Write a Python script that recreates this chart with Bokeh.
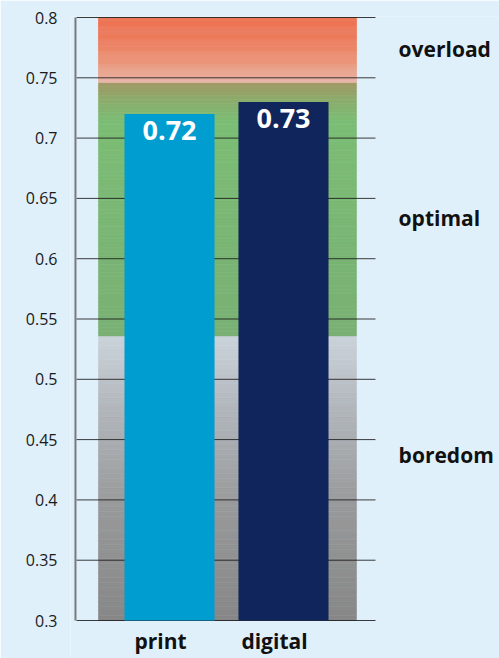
import numpy as np
from bokeh.plotting import figure
from bokeh.models import Range1d, FixedTicker
from bokeh.core.properties import value
from bokeh.embed import file_html
from bokeh.resources import INLINE

# Scores per medium
categories = ["print", "digital"]
scores = [0.72, 0.73]
bar_colors = ["#009dd0", "#10255b"]

# Vertical axis ticks
y_ticks = [0.3, 0.35, 0.4, 0.45, 0.5, 0.55, 0.6, 0.65, 0.7, 0.75, 0.8]
y_tick_labels = ["0.3", "0.35", "0.4", "0.45", "0.5", "0.55", "0.6", "0.65", "0.7", "0.75", "0.8"]

# Background zones
zone_names = ["boredom", "optimal", "overload"]
zone_bottoms = [0.3, 0.536, 0.746]
zone_tops = [0.536, 0.746, 0.8]
zone_label_y = [0.437, 0.634, 0.774]

# colour stops per zone: (position from bottom 0..1, rgb)
zone_stops = [
    [(0.0, (135, 135, 135)), (0.4, (152, 153, 154)), (0.75, (178, 183, 188)), (1.0, (203, 211, 218))],
    [(0.0, (122, 176, 116)), (0.85, (123, 189, 116)), (0.93, (140, 172, 108)), (1.0, (160, 152, 100))],
    [(0.0, (232, 182, 168)), (0.3, (235, 150, 122)), (0.65, (237, 124, 93)), (1.0, (238, 114, 82))],
]

FONT = "Open Sans"
BG = "#dff0fa"

y_min, y_max = y_ticks[0], y_ticks[-1]
cat_x = [i + 0.5 for i in range(len(categories))]
band_left, band_right = -0.123, 2.14
grid_left, grid_right = -0.316, 2.307
axis_x = -0.325
zone_label_x = 2.51

# the frame runs past the value axis so the category names can sit below it
p = figure(width=499, height=658, output_backend="svg", toolbar_location=None,
           x_range=Range1d(-0.3686, 3.395), y_range=Range1d(0.2685, 0.80083),
           min_border_left=70, min_border_right=0, min_border_top=16,
           min_border_bottom=0)
p.background_fill_color = BG
p.border_fill_color = BG
p.outline_line_color = None


def lerp_color(stops, t):
    for (t0, c0), (t1, c1) in zip(stops[:-1], stops[1:]):
        if t <= t1:
            f = 0 if t1 == t0 else (t - t0) / (t1 - t0)
            rgb = [int(round(a + (b - a) * f)) for a, b in zip(c0, c1)]
            return "#%02x%02x%02x" % tuple(rgb)
    return "#%02x%02x%02x" % stops[-1][1]


# gradient zones, drawn as thin strips underneath the grid lines
n = 60
for b, t, stops in zip(zone_bottoms, zone_tops, zone_stops):
    edges = np.linspace(b, t, n + 1)
    mids = (np.arange(n) + 0.5) / n
    cols = [lerp_color(stops, m) for m in mids]
    r = p.quad(left=band_left, right=band_right, bottom=edges[:-1], top=edges[1:],
               fill_color=cols, line_color=cols, line_width=0.6)
    r.level = "image"

# horizontal rules at every tick, stopping short of the zone labels
g = p.segment(x0=grid_left, x1=grid_right, y0=y_ticks, y1=y_ticks,
              line_color="#1a1a1a", line_alpha=0.85, line_width=1)
g.level = "underlay"

# value axis line
p.segment(x0=axis_x, x1=axis_x, y0=y_min, y1=y_max, line_color="#7a7a7a", line_width=2)

# bars
p.vbar(x=cat_x, top=scores, bottom=y_min, width=0.79, fill_color=bar_colors,
       line_color=None)

# value labels inside bars
p.text(x=cat_x, y=scores, text=["%.2f" % s for s in scores], text_color="white",
       text_font=value(FONT), text_font_style="bold", text_font_size="27px",
       text_align="center", text_baseline="top", y_offset=7)

# category names below the bars
p.text(x=cat_x, y=y_min, text=categories, text_color="#111111",
       text_font=value(FONT), text_font_style="bold", text_font_size="21px",
       text_align="center", text_baseline="top", y_offset=6, x_offset=-9)

# zone labels on the right
p.text(x=zone_label_x, y=zone_label_y, text=zone_names, text_color="#111111",
       text_font=value(FONT), text_font_style="bold", text_font_size="21px",
       text_align="left", text_baseline="middle")

# grid handled by the rules above
p.xgrid.grid_line_color = None
p.ygrid.grid_line_color = None
p.xaxis.visible = False

# y axis labels
p.yaxis.ticker = FixedTicker(ticks=y_ticks)
p.yaxis.major_label_overrides = {t: l for t, l in zip(y_ticks, y_tick_labels)}
p.yaxis.axis_line_color = None
p.yaxis.major_tick_line_color = None
p.yaxis.minor_tick_line_color = None
p.yaxis.major_tick_out = 0
p.yaxis.major_tick_in = 0
p.yaxis.major_label_standoff = 13
p.yaxis.major_label_text_font = FONT
p.yaxis.major_label_text_font_size = "16px"
p.yaxis.major_label_text_color = "#1a1a1a"

open("out.html", "w").write(file_html(p, INLINE))
